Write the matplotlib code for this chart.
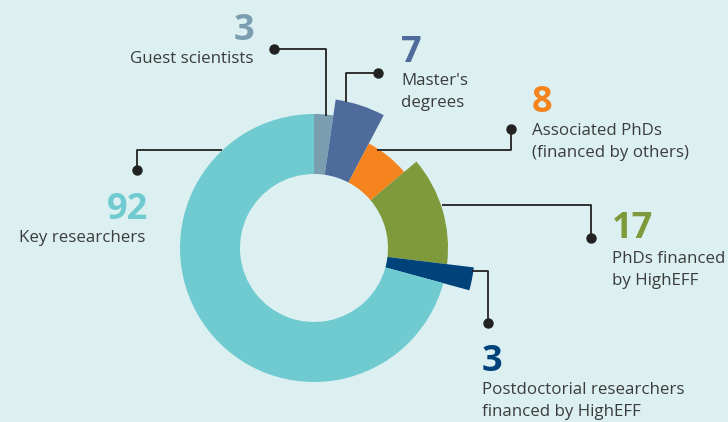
import numpy as np
import matplotlib.pyplot as plt
from matplotlib.patches import Wedge

plt.rcParams['font.family'] = ['Open Sans', 'DejaVu Sans']

# data (clockwise from 12 o'clock)
categories = ["Guest scientists",
              "Master's\ndegrees",
              "Associated PhDs\n(financed by others)",
              "PhDs financed\nby HighEFF",
              "Postdoctorial researchers\nfinanced by HighEFF",
              "Key researchers"]
values = [3, 7, 8, 17, 3, 92]

# styling
colors = ["#7a9eb0", "#4f6b9c", "#f5841f", "#7f9a3a", "#00437b", "#6fcbd0"]
outer_r = [134, 150, 118, 134, 161, 134]
inner_r = 74
bg = "#dcf0f1"
txt = "#3c3c3c"
line_c = "#222222"

W, H = 728, 422
cx, cy = 314, 248

# label layout in pixel coords (y from top)
# (number x, number baseline, text x, text baseline, align)
lab_pos = [(254, 40, 254, 63, 'right'),
           (401, 62, 401, 85, 'left'),
           (532, 112, 532, 135, 'left'),
           (612, 238, 612, 263, 'left'),
           (482, 371, 482, 394, 'left'),
           (148, 219, 145, 242, 'right')]
# leader lines: list of points from dot to slice edge
leaders = [[(274, 49), (326, 49), (326, 116)],
           [(378, 73), (346, 73), (346, 102)],
           [(511, 129), (511, 150), (377, 150)],
           [(591, 238), (591, 205), (442, 205)],
           [(488, 323), (488, 271), (472, 271)],
           [(137, 170), (137, 150), (222, 150)]]

fig = plt.figure(figsize=(W / 100, H / 100), dpi=100)
fig.patch.set_facecolor(bg)
ax = fig.add_axes([0, 0, 1, 1])
ax.set_xlim(0, W)
ax.set_ylim(0, H)
ax.set_aspect('equal')
ax.axis('off')


def py(y):
    return H - y


total = sum(values)
cum = np.concatenate([[0], np.cumsum(values)])
for i, v in enumerate(values):
    t2 = 90 - cum[i] / total * 360
    t1 = 90 - cum[i + 1] / total * 360
    w = Wedge((cx, py(cy)), outer_r[i], t1, t2, width=outer_r[i] - inner_r,
              facecolor=colors[i], edgecolor='none')
    ax.add_patch(w)

for pts in leaders:
    xs = [p[0] for p in pts]
    ys = [py(p[1]) for p in pts]
    ax.plot(xs, ys, color=line_c, lw=1.3, solid_capstyle='butt', zorder=3)
    ax.plot(xs[0], ys[0], 'o', color=line_c, ms=6.5, zorder=4)

for i, (nx, nb, tx, tb, ha) in enumerate(lab_pos):
    ax.text(nx, py(nb), str(values[i]), ha=ha, va='baseline',
            fontsize=26, fontweight='bold', color=colors[i])
    for k, line in enumerate(categories[i].split("\n")):
        ax.text(tx, py(tb + k * 22), line, ha=ha, va='baseline',
                fontsize=12.2, color=txt)

fig.savefig("out.png", dpi=100, facecolor=bg)
